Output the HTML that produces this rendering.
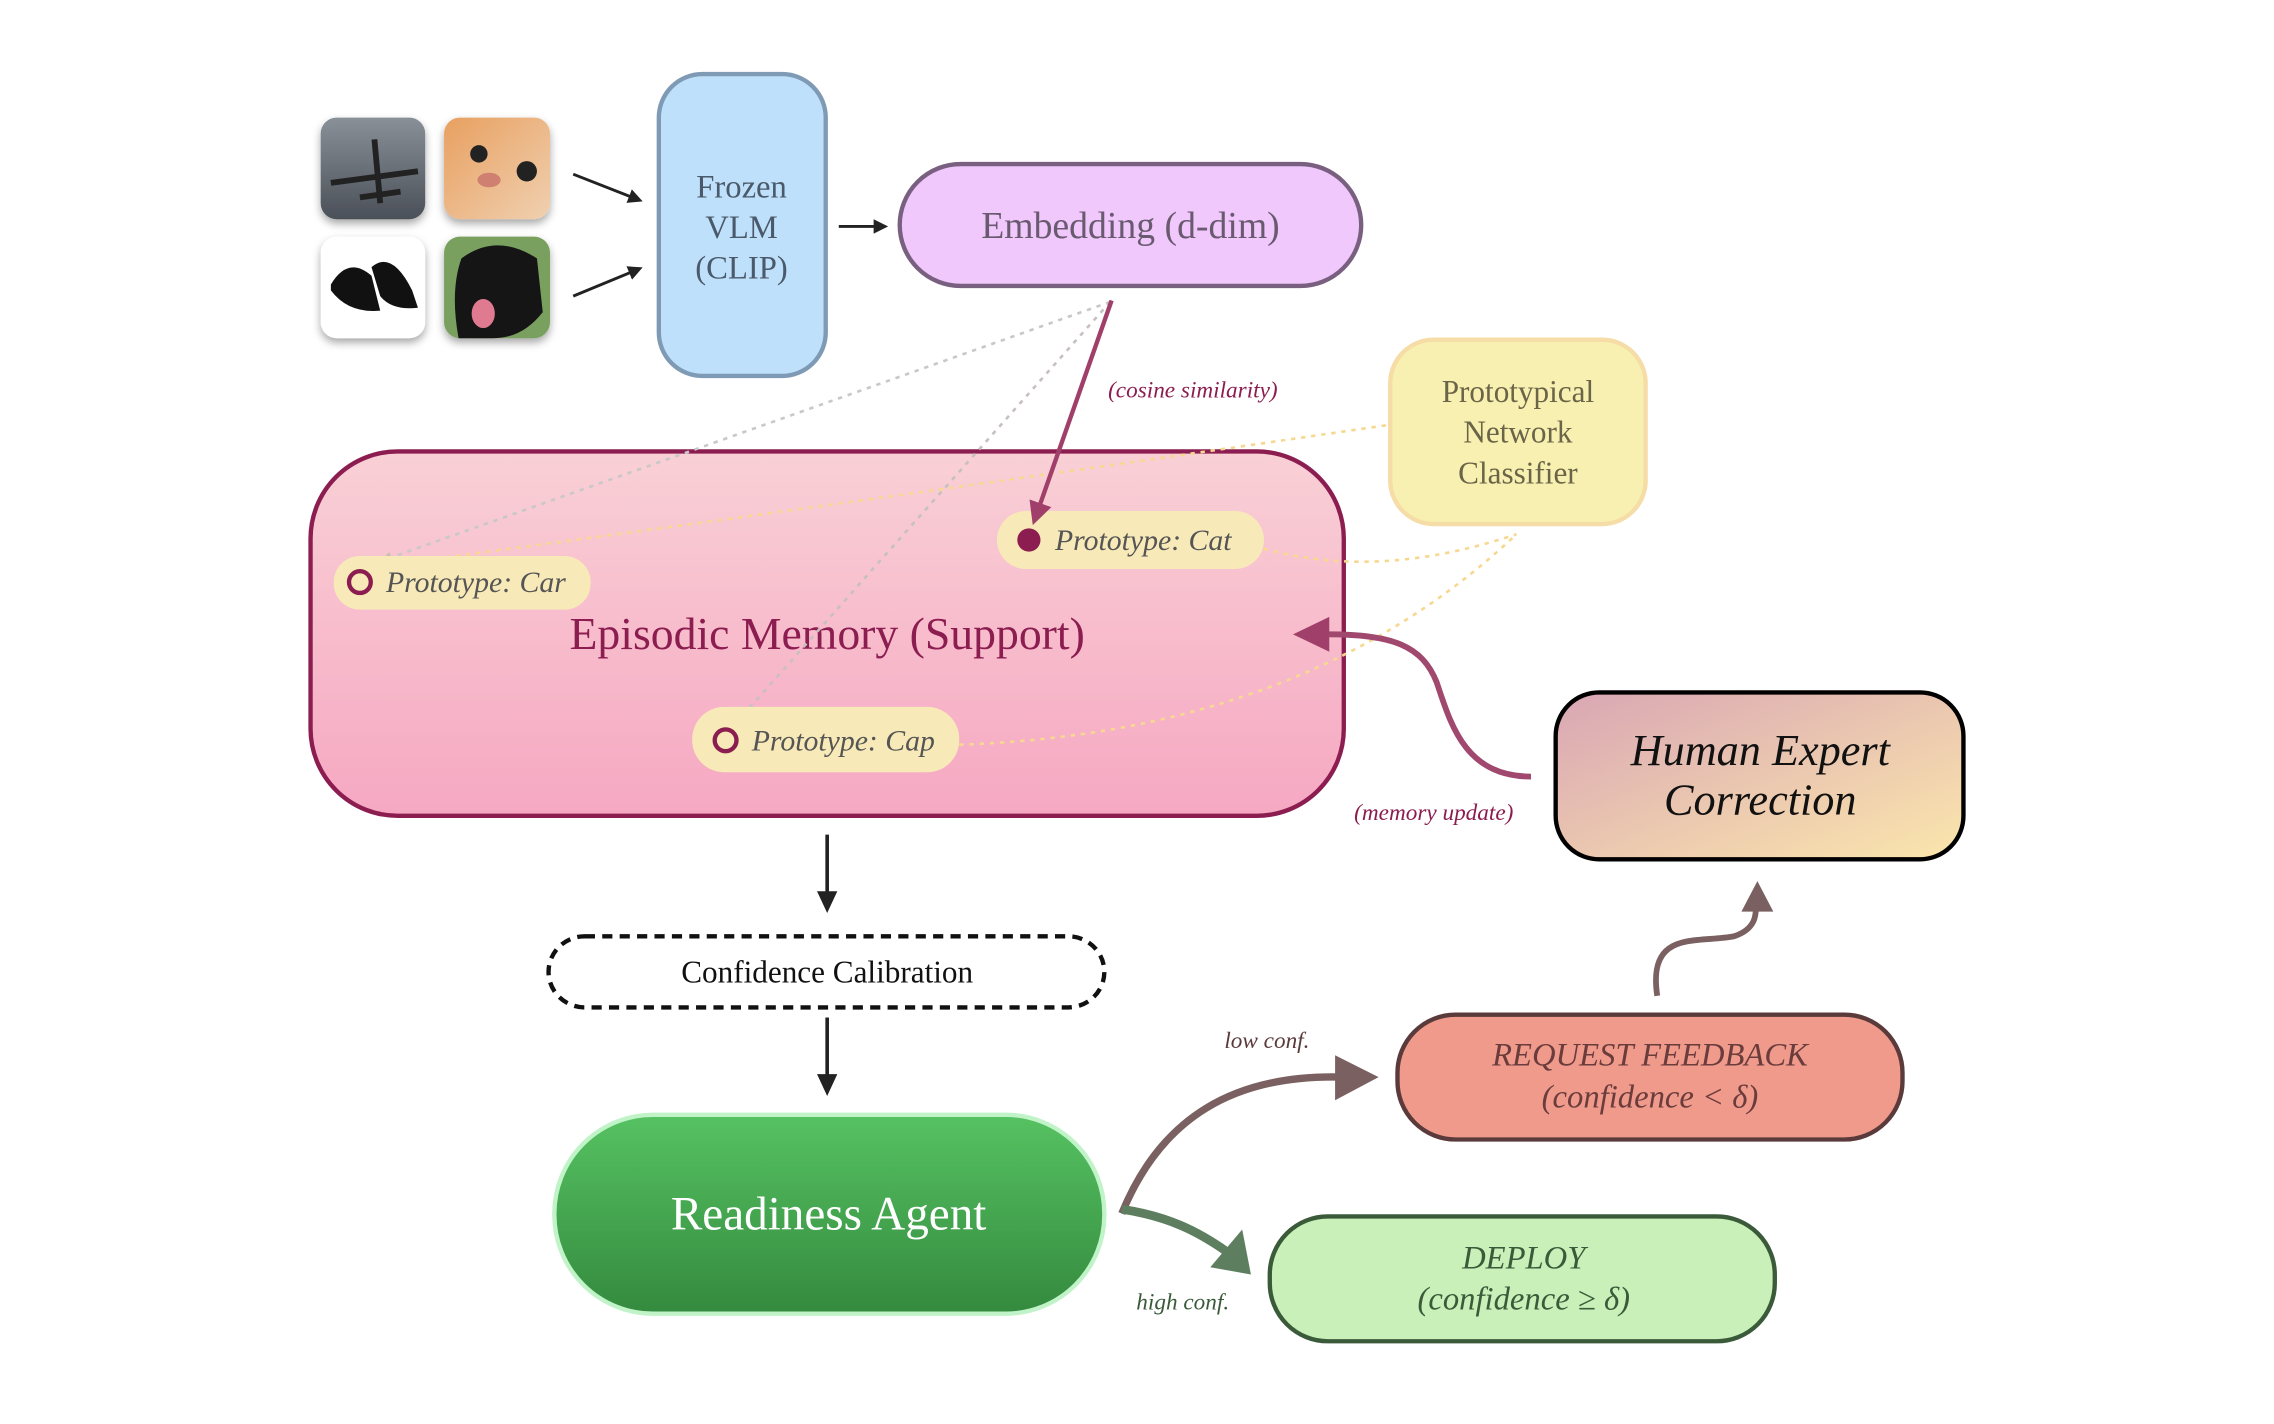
<!DOCTYPE html>
<html><head><meta charset="utf-8"><style>
html,body{margin:0;padding:0;background:#fff;width:2274px;height:1424px;overflow:hidden}
svg{display:block}
text{font-family:"Liberation Serif",serif}
</style></head><body>
<svg width="2274" height="1424" viewBox="0 0 1567 981" preserveAspectRatio="none" xmlns="http://www.w3.org/2000/svg">
<defs>
<linearGradient id="mem" x1="0" y1="0" x2="0" y2="1"><stop offset="0" stop-color="#f9d0d6"/><stop offset="1" stop-color="#f6a8c2"/></linearGradient>
<linearGradient id="hum" x1="0" y1="0" x2="1" y2="1"><stop offset="0" stop-color="#d9a6b4"/><stop offset="1" stop-color="#fbe6ac"/></linearGradient>
<linearGradient id="rdy" x1="0" y1="0" x2="0" y2="1"><stop offset="0" stop-color="#56c262"/><stop offset="1" stop-color="#348a3e"/></linearGradient>
<linearGradient id="plane" x1="0" y1="0" x2="0" y2="1"><stop offset="0" stop-color="#8a9098"/><stop offset="1" stop-color="#4a5058"/></linearGradient>
<linearGradient id="cat" x1="0" y1="0" x2="1" y2="1"><stop offset="0" stop-color="#e8a060"/><stop offset="1" stop-color="#f0d0b0"/></linearGradient>
<filter id="sh" x="-20%" y="-20%" width="140%" height="150%"><feDropShadow dx="0" dy="3" stdDeviation="3" flood-opacity="0.35"/></filter>
<marker id="ab" markerWidth="10" markerHeight="10" refX="8" refY="5" orient="auto" markerUnits="userSpaceOnUse"><path d="M0,0 L10,5 L0,10 z" fill="#222"/></marker>
<marker id="ag" markerWidth="8" markerHeight="8" refX="6" refY="4" orient="auto" markerUnits="userSpaceOnUse"><path d="M0,0 L8,4 L0,8 z" fill="#c8c0a8"/></marker>
<marker id="ap" markerWidth="16" markerHeight="16" refX="12" refY="8" orient="auto" markerUnits="userSpaceOnUse"><path d="M0,0 L16,8 L0,16 z" fill="#a0406a"/></marker>
</defs>

<g filter="url(#sh)">
<rect x="221" y="81" width="72" height="70" rx="11" fill="url(#plane)"/>
<rect x="306" y="81" width="73" height="70" rx="11" fill="url(#cat)"/>
<rect x="221" y="163" width="72" height="70" rx="11" fill="#fff"/>
<rect x="306" y="163" width="73" height="70" rx="11" fill="#7aa060"/>
</g>
<path d="M228,126 L288,118 M258,96 L262,140 M248,136 L276,132" stroke="#222" stroke-width="4"/>
<circle cx="330" cy="106" r="6" fill="#222"/><circle cx="363" cy="118" r="7" fill="#222"/><ellipse cx="337" cy="124" rx="8" ry="5" fill="#d08070"/>
<path d="M228,196 Q240,176 256,190 L262,214 Q240,216 228,200 z M256,184 Q270,172 284,200 L288,212 Q270,214 262,204 z" fill="#111"/>
<path d="M318,178 Q342,160 370,178 L374,215 Q360,233 340,233 L316,233 Q310,200 318,178 z" fill="#151515"/>
<ellipse cx="333" cy="216" rx="8" ry="10" fill="#e07a90"/>

<line x1="395" y1="120" x2="441" y2="138" stroke="#222" stroke-width="2" marker-end="url(#ab)"/>
<line x1="395" y1="204" x2="441" y2="185" stroke="#222" stroke-width="2" marker-end="url(#ab)"/>

<rect x="454" y="51" width="115" height="208" rx="30" fill="#bfe0fb" stroke="#7f9ab5" stroke-width="3"/>
<g font-size="22.5" fill="#4a5a6a" text-anchor="middle"><text x="511" y="136">Frozen</text><text x="511" y="164">VLM</text><text x="511" y="192">(CLIP)</text></g>
<line x1="578" y1="156" x2="610" y2="156" stroke="#222" stroke-width="2" marker-end="url(#ab)"/>

<rect x="620" y="113" width="318" height="84" rx="42" fill="#f0c8fc" stroke="#7a6080" stroke-width="3"/>
<text x="779" y="164" font-size="26" fill="#6a5a70" text-anchor="middle">Embedding (d-dim)</text>

<rect x="958" y="234" width="176" height="127" rx="30" fill="#f8f0b0" stroke="#f6dca6" stroke-width="3"/>
<g font-size="21.5" fill="#6a6448" text-anchor="middle"><text x="1046" y="277">Prototypical</text><text x="1046" y="305">Network</text><text x="1046" y="333">Classifier</text></g>

<rect x="214" y="311" width="712" height="251" rx="60" fill="url(#mem)" stroke="#8c1d50" stroke-width="3"/>
<text x="570" y="447" font-size="31.5" fill="#8c1d50" text-anchor="middle">Episodic Memory (Support)</text>

<g fill="none" stroke-dasharray="3,4" stroke-width="1.8">
<line x1="765" y1="208" x2="264" y2="386" stroke="#c8c8c8" marker-end="url(#ag)"/>
<line x1="765" y1="208" x2="509" y2="496" stroke="#c8c0c0" marker-end="url(#ag)"/>
<path d="M955,293 Q600,345 262,390" stroke="#f6d890"/>
<path d="M871,378 Q950,400 1045,368" stroke="#f6d890"/>
<path d="M661,513 Q900,505 1045,368" stroke="#f6d890"/>
</g>

<rect x="687" y="352" width="184" height="40" rx="20" fill="#f8eab8"/>
<circle cx="709" cy="372" r="8" fill="#8c1d50"/>
<text x="727" y="379" font-size="20.5" font-style="italic" fill="#555">Prototype: Cat</text>
<rect x="230" y="383" width="177" height="37" rx="18" fill="#f8eab8"/>
<circle cx="248" cy="401" r="7.5" fill="none" stroke="#8c1d50" stroke-width="3"/>
<text x="266" y="408" font-size="20.5" font-style="italic" fill="#555">Prototype: Car</text>
<rect x="477" y="487" width="184" height="45" rx="22" fill="#f8eab8"/>
<circle cx="500" cy="510" r="7.5" fill="none" stroke="#8c1d50" stroke-width="3"/>
<text x="518" y="517" font-size="20.5" font-style="italic" fill="#555">Prototype: Cap</text>

<line x1="766" y1="207" x2="713" y2="358" stroke="#a0406a" stroke-width="3" marker-end="url(#ap)"/>
<text x="822" y="274" font-size="16" font-style="italic" fill="#8c1d50" text-anchor="middle">(cosine similarity)</text>

<rect x="1072" y="477" width="281" height="115" rx="30" fill="url(#hum)" stroke="#000" stroke-width="3"/>
<g font-size="30.5" font-style="italic" fill="#111" text-anchor="middle"><text x="1213" y="527">Human Expert</text><text x="1213" y="561">Correction</text></g>

<path d="M1055,535 C1010,535 1000,500 990,470 C980,445 960,437 915,437" fill="none" stroke="#a0486e" stroke-width="4"/>
<path d="M891,437 L916,425 L916,449 z" fill="#a0406a"/>
<text x="988" y="565" font-size="16" font-style="italic" fill="#8c1d50" text-anchor="middle">(memory update)</text>

<line x1="570" y1="575" x2="570" y2="626" stroke="#222" stroke-width="2.5"/>
<path d="M563,614 L570,629 L577,614 z" fill="#222"/>
<rect x="378" y="645" width="383" height="49" rx="25" fill="none" stroke="#111" stroke-width="3" stroke-dasharray="7,5"/>
<text x="570" y="677" font-size="21.5" fill="#111" text-anchor="middle">Confidence Calibration</text>
<line x1="570" y1="701" x2="570" y2="752" stroke="#222" stroke-width="2.5"/>
<path d="M563,740 L570,755 L577,740 z" fill="#222"/>

<rect x="382" y="768" width="379" height="137" rx="68" fill="url(#rdy)" stroke="#c0f4c8" stroke-width="3"/>
<text x="571" y="847" font-size="32.5" fill="#fff" text-anchor="middle">Readiness Agent</text>

<rect x="963" y="699" width="348" height="86" rx="40" fill="#f09a8c" stroke="#5a3a3a" stroke-width="3"/>
<g font-size="22.5" font-style="italic" fill="#6a3c3c" text-anchor="middle"><text x="1137" y="734">REQUEST FEEDBACK</text><text x="1137" y="763">(confidence &lt; δ)</text></g>

<rect x="875" y="838" width="348" height="86" rx="40" fill="#c8f0b8" stroke="#3a5a3a" stroke-width="3"/>
<g font-size="22.5" font-style="italic" fill="#3a5a3a" text-anchor="middle"><text x="1050" y="874">DEPLOY</text><text x="1050" y="902">(confidence ≥ δ)</text></g>

<path d="M773,836 C800,770 850,740 925,742" fill="none" stroke="#7a6060" stroke-width="5"/>
<path d="M950,742 L920,727 L920,758 z" fill="#7a6060"/>
<path d="M773,833 C805,838 825,848 845,862" fill="none" stroke="#5e7e60" stroke-width="6"/>
<path d="M862,878 L834,873 L856,847 z" fill="#5e7e60"/>
<text x="873" y="722" font-size="16" font-style="italic" fill="#5a3a3a" text-anchor="middle">low conf.</text>
<text x="815" y="902" font-size="16" font-style="italic" fill="#3a5a3a" text-anchor="middle">high conf.</text>

<path d="M1142,686 C1135,640 1170,650 1195,645 C1210,640 1210,630 1210,625" fill="none" stroke="#7a6060" stroke-width="4"/>
<path d="M1211,607 L1200,628 L1222,628 z" fill="#7a6060"/>
</svg>
</body></html>
